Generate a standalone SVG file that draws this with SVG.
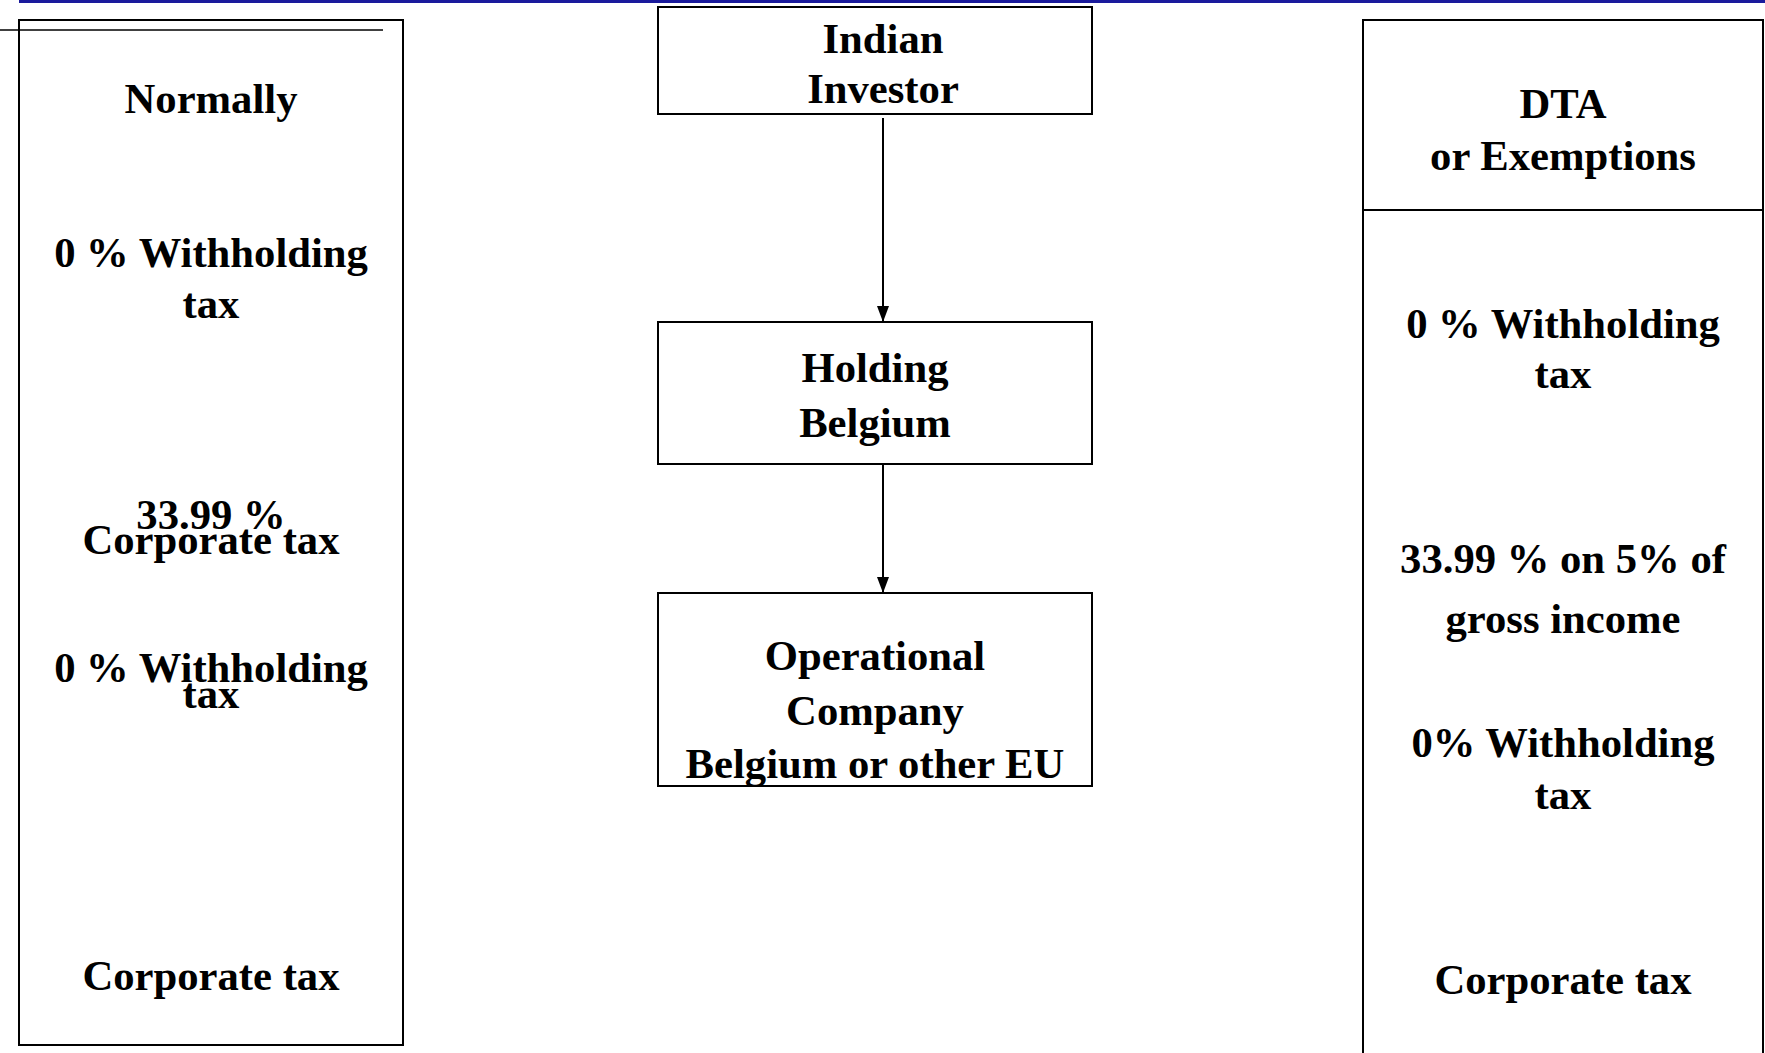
<svg xmlns="http://www.w3.org/2000/svg" width="1765" height="1053" viewBox="0 0 1765 1053">
<style>
text{font-family:"Liberation Serif","Times New Roman",serif;font-weight:bold;font-size:42.67px;fill:#000;text-anchor:middle}
.box{fill:#fff;stroke:#000;stroke-width:2}
.conn{stroke:#000;stroke-width:2;fill:none}
</style>
<defs>
<marker id="arr" viewBox="0 0 10 10" refX="10" refY="5" markerWidth="10" markerHeight="10" markerUnits="userSpaceOnUse" orient="auto">
<path d="M0,0 L10,5 L0,10 Z" fill="#000"/>
</marker>
<marker id="arrB" viewBox="0 0 16 12" refX="16" refY="6" markerWidth="16" markerHeight="12" markerUnits="userSpaceOnUse" orient="auto">
<path d="M0,0 L16,6 L0,12 Z" fill="#000"/>
</marker>
</defs>
<rect width="1765" height="1053" fill="#fff"/>
<line x1="19" y1="1.5" x2="1765" y2="1.5" stroke="#1a1a9c" stroke-width="3"/>

<g id="normally">
<rect class="box" x="19" y="20" width="384" height="1025"/>
<line x1="0" y1="30" x2="383" y2="30" stroke="#000" stroke-width="1.5"/>
<text x="211" y="113">Normally</text>
<text x="211" y="267">0 % Withholding</text>
<text x="211" y="318">tax</text>
<text x="211" y="529">33.99 %</text>
<text x="211" y="554">Corporate tax</text>
<text x="211" y="682">0 % Withholding</text>
<text x="211" y="708">tax</text>
<text x="211" y="990">Corporate tax</text>
</g>

<g id="dta">
<path class="box" d="M1363,1053 L1363,20 L1763,20 L1763,1053"/>
<line x1="1363" y1="210" x2="1763" y2="210" stroke="#000" stroke-width="2"/>
<text x="1563" y="118">DTA</text>
<text x="1563" y="170">or Exemptions</text>
<text x="1563" y="338">0 % Withholding</text>
<text x="1563" y="388">tax</text>
<text x="1563" y="573">33.99 % on 5% of</text>
<text x="1563" y="633">gross income</text>
<text x="1563" y="757">0% Withholding</text>
<text x="1563" y="809">tax</text>
<text x="1563" y="994">Corporate tax</text>
</g>

<g id="indian-investor">
<rect class="box" x="658" y="7" width="434" height="107"/>
<text x="883" y="53">Indian</text>
<text x="883" y="103">Investor</text>
</g>

<g id="holding-belgium">
<rect class="box" x="658" y="322" width="434" height="142"/>
<text x="875" y="382">Holding</text>
<text x="875" y="437">Belgium</text>
</g>

<g id="operational-company">
<rect class="box" x="658" y="593" width="434" height="193"/>
<text x="875" y="670">Operational</text>
<text x="875" y="725">Company</text>
<text x="875" y="778">Belgium or other EU</text>
</g>

<g id="connectors">
<line class="conn" x1="883" y1="118" x2="883" y2="322" marker-end="url(#arrB)"/>
<line class="conn" x1="883" y1="465" x2="883" y2="593" marker-end="url(#arrB)"/>
</g>
</svg>
